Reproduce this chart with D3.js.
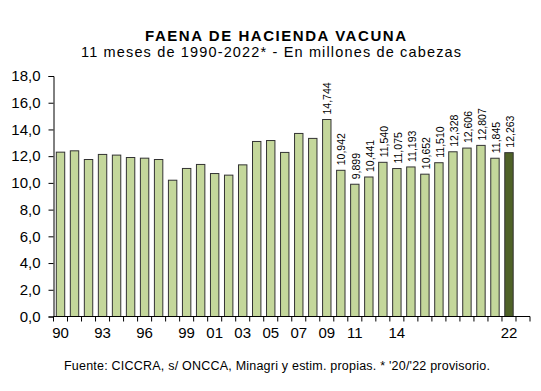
<!DOCTYPE html>
<html>
<head>
<meta charset="utf-8">
<script src="https://cdn.jsdelivr.net/npm/d3@7"></script>
<style>
  html, body { margin: 0; padding: 0; background: #fff; }
  svg { display: block; font-family: "Liberation Sans", Arial, sans-serif; }
</style>
</head>
<body>
<svg id="chart" width="541" height="391"></svg>
<script>
// ---- data ----
const years = d3.range(1990, 2023);
const values = [12.30, 12.40, 11.75, 12.13, 12.08, 11.90, 11.85, 11.75, 10.20, 11.08,
                11.38, 10.70, 10.58, 11.35, 13.10, 13.17, 12.28, 13.70, 13.33, 14.744,
                10.942, 9.899, 10.441, 11.540, 11.075, 11.193, 10.652, 11.510, 12.328, 12.606,
                12.807, 11.845, 12.263];
const labelFrom = 2009;
const tickYears = [1990, 1993, 1996, 1999, 2001, 2003, 2005, 2007, 2009, 2011, 2014, 2022];
const yTicks = [0, 2, 4, 6, 8, 10, 12, 14, 16, 18];
const highlightYear = 2022;
const title = "FAENA DE HACIENDA VACUNA";
const subtitle = "11 meses de 1990-2022* - En millones de cabezas";
const source = "Fuente: CICCRA, s/ ONCCA, Minagri y estim. propias. * '20/'22 provisorio.";

const data = years.map((y, i) => ({ year: y, value: values[i] }));
const slots = d3.range(1990, 2024); // one empty slot after 2022

const svg = d3.select("#chart");
const x0 = 53.5, x1 = 530, yBase = 316.5, yTop = 76;

const x = d3.scaleBand().domain(slots).range([x0, x1]).paddingInner(0.4).paddingOuter(0.2);
const xs = d3.scaleBand().domain(slots).range([x0, x1]);
const y = d3.scaleLinear().domain([0, 18]).range([yBase, yTop]);

const fmt = v => v.toFixed(1).replace(".", ",");
const fmt3 = v => v.toFixed(3).replace(".", ",");

// titles
svg.append("text").attr("x", 145).attr("y", 40.5)
  .attr("font-size", 15).attr("font-weight", "bold").attr("fill", "#000")
  .attr("textLength", 261).attr("lengthAdjust", "spacing").text(title);
svg.append("text").attr("x", 81).attr("y", 57)
  .attr("font-size", 14.5).attr("fill", "#000")
  .attr("textLength", 380).attr("lengthAdjust", "spacing").text(subtitle);

// bars
svg.append("g").selectAll("rect").data(data).join("rect")
  .attr("x", d => x(d.year))
  .attr("y", d => y(d.value))
  .attr("width", x.bandwidth())
  .attr("height", d => y(0) - y(d.value))
  .attr("fill", d => d.year === highlightYear ? "#4f6228" : "#c4d79b")
  .attr("stroke", "#333")
  .attr("stroke-width", 1);

// value labels
svg.append("g").selectAll("text").data(data.filter(d => d.year >= labelFrom)).join("text")
  .attr("transform", d => `translate(${x(d.year) + x.bandwidth() / 2 + 1},${y(d.value) - 5}) rotate(-90)`)
  .attr("dy", "0.35em")
  .attr("font-size", 10.5)
  .attr("fill", "#000")
  .text(d => fmt3(d.value));

// y axis
const yAxis = d3.axisLeft(y).tickValues(yTicks).tickFormat(fmt).tickSize(5).tickPadding(8);
const gy = svg.append("g").attr("transform", `translate(${x0},0)`).call(yAxis);
gy.select(".domain").attr("stroke", "#000");
gy.selectAll(".tick line").attr("stroke", "#000");
gy.selectAll(".tick text").attr("font-size", 15).attr("font-family", "Liberation Sans, Arial, sans-serif").attr("fill", "#000");

// x axis ticks at slot boundaries
const gx = svg.append("g");
gx.append("line").attr("x1", x0).attr("x2", x1).attr("y1", yBase).attr("y2", yBase).attr("stroke", "#000");
gx.selectAll("line.t").data(slots.concat([2024])).join("line").attr("class", "t")
  .attr("x1", d => d === 2024 ? x1 : xs(d)).attr("x2", d => d === 2024 ? x1 : xs(d))
  .attr("y1", yBase).attr("y2", yBase + 5).attr("stroke", "#000");
gx.selectAll("text").data(tickYears).join("text")
  .attr("x", d => x(d) + x.bandwidth() / 2)
  .attr("y", 338)
  .attr("text-anchor", "middle")
  .attr("font-size", 15)
  .attr("fill", "#000")
  .text(d => String(d).slice(2));

// source
svg.append("text").attr("x", 64).attr("y", 370)
  .attr("font-size", 12.5).attr("fill", "#000")
  .attr("textLength", 426).attr("lengthAdjust", "spacing").text(source);
</script>
</body>
</html>
